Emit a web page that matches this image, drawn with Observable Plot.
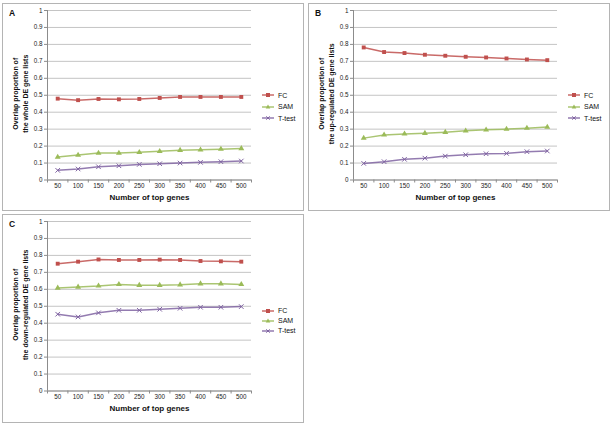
<!DOCTYPE html>
<html><head><meta charset="utf-8">
<script src="https://cdn.jsdelivr.net/npm/d3@7"></script>
<script src="https://cdn.jsdelivr.net/npm/@observablehq/plot@0.6"></script>
<style>
body{margin:0;background:#fff;font-family:"Liberation Sans",Arial,sans-serif;}
#root{position:relative;width:612px;height:425px;overflow:hidden;background:#fff;}
.box{position:absolute;border:1px solid #b4b4b4;box-sizing:border-box;}
.plot{position:absolute;overflow:visible;}
.letter{position:absolute;font-weight:bold;font-size:8.5px;color:#111;line-height:1;}
.leg{position:absolute;font-size:7px;color:#111;display:flex;align-items:center;line-height:1;white-space:nowrap;}
.leg svg{margin-right:3px;}
</style></head><body><div id="root"></div>
<script>
const genes = [50, 100, 150, 200, 250, 300, 350, 400, 450, 500];
const seriesNames = ["FC", "SAM", "T-test"];
const seriesColors = ["#c0504d", "#9bbb59", "#8064a2"];
const seriesSymbols = ["square", "triangle", "times"];
const panelLetters = ["A", "B", "C"];
const yTitleLine1 = "Overlap proportion of";
const yTitleLine2 = ["the whole DE gene lists", "the up-regulated DE gene lists", "the down-regulated DE gene lists"];
const xTitle = "Number of top genes";
const yTicks = [0, 0.1, 0.2, 0.3, 0.4, 0.5, 0.6, 0.7, 0.8, 0.9, 1];

// Panel A: whole DE gene lists
const wholeFC = [0.480, 0.471, 0.478, 0.476, 0.478, 0.484, 0.490, 0.490, 0.490, 0.490];
const wholeSAM = [0.135, 0.147, 0.159, 0.159, 0.163, 0.169, 0.176, 0.178, 0.182, 0.186];
const wholeTtest = [0.057, 0.065, 0.078, 0.084, 0.092, 0.096, 0.100, 0.104, 0.108, 0.112];
// Panel B: up-regulated
const upFC = [0.782, 0.755, 0.749, 0.739, 0.733, 0.727, 0.723, 0.717, 0.711, 0.707];
const upSAM = [0.247, 0.266, 0.272, 0.276, 0.282, 0.290, 0.296, 0.300, 0.306, 0.312];
const upTtest = [0.098, 0.108, 0.122, 0.129, 0.141, 0.149, 0.155, 0.157, 0.167, 0.171];
// Panel C: down-regulated
const downFC = [0.751, 0.763, 0.776, 0.773, 0.773, 0.775, 0.773, 0.767, 0.765, 0.763];
const downSAM = [0.608, 0.614, 0.620, 0.629, 0.624, 0.624, 0.627, 0.633, 0.633, 0.629];
const downTtest = [0.453, 0.437, 0.461, 0.476, 0.476, 0.482, 0.488, 0.494, 0.494, 0.498];

const panels = [
  {series: [wholeFC, wholeSAM, wholeTtest], left: 2, top: 3, w: 302, h: 208, legTop: 92, legGap: 11.5},
  {series: [upFC, upSAM, upTtest], left: 308, top: 3, w: 302, h: 208, legTop: 92, legGap: 11.5},
  {series: [downFC, downSAM, downTtest], left: 2, top: 214, w: 302, h: 209, legTop: 96.5, legGap: 10}
];

const root = document.getElementById("root");
const step = genes[1] - genes[0];
const xDomain = [genes[0] - step / 2, genes[genes.length - 1] + step / 2];
const boundaries = [xDomain[0], ...genes.map(g => g + step / 2)];
const axisColor = "#8c8c8c";
const font = "'Liberation Sans', Arial, sans-serif";

panels.forEach((p, pi) => {
  const box = document.createElement("div");
  box.className = "box";
  Object.assign(box.style, {left: p.left + "px", top: p.top + "px", width: p.w + "px", height: p.h + "px"});
  root.appendChild(box);

  const rows = [];
  p.series.forEach((vals, si) => vals.forEach((v, i) => rows.push({gene: genes[i], value: v, series: seriesNames[si]})));

  const marks = [
    Plot.gridY(yTicks, {stroke: "#c4c4c4", strokeOpacity: 1}),
    Plot.ruleY([0], {stroke: axisColor}),
    Plot.ruleX([xDomain[0]], {y1: 0, y2: 1, stroke: axisColor}),
    Plot.axisY(yTicks, {tickSize: 3, tickPadding: 2, stroke: axisColor, tickFormat: d => String(+d.toFixed(1)), label: null, fill: "#222"}),
    Plot.axisX(genes, {tickSize: 0, tickPadding: 3.5, tickFormat: d => String(d), label: null, fill: "#222"}),
    Plot.axisX(boundaries, {tickSize: 3, stroke: axisColor, tickFormat: () => "", label: null}),
    Plot.text([xTitle], {frameAnchor: "bottom", lineAnchor: "middle", textAnchor: "middle", dy: 17.5, fontWeight: "bold", fontSize: 8, fill: "#111"}),
    Plot.text([yTitleLine1], {frameAnchor: "left", textAnchor: "middle", lineAnchor: "middle", rotate: -90, dx: -32, dy: -1.5, fontWeight: "bold", fontSize: 7, fill: "#111"}),
    Plot.text([yTitleLine2[pi]], {frameAnchor: "left", textAnchor: "middle", lineAnchor: "middle", rotate: -90, dx: -22, dy: -1.5, fontWeight: "bold", fontSize: 7, fill: "#111"})
  ];
  seriesNames.forEach((name, si) => {
    const d = rows.filter(r => r.series === name);
    marks.push(Plot.line(d, {x: "gene", y: "value", stroke: seriesColors[si], strokeWidth: 1.5, strokeOpacity: 0.85}));
    if (seriesSymbols[si] === "times") {
      marks.push(Plot.dot(d, {x: "gene", y: "value", symbol: "times", r: 2.2, stroke: seriesColors[si], strokeWidth: 1}));
    } else {
      marks.push(Plot.dot(d, {x: "gene", y: "value", symbol: seriesSymbols[si], r: 2.2, fill: seriesColors[si], stroke: "none"}));
    }
  });

  const chart = Plot.plot({
    width: 301, height: 207,
    marginLeft: 45, marginRight: 52, marginTop: 7, marginBottom: 30.5,
    style: {fontFamily: font, fontSize: "6.3px", background: "transparent", color: "#222", overflow: "visible"},
    x: {type: "linear", domain: xDomain, label: null},
    y: {domain: [0, 1], label: null},
    marks
  });
  chart.classList.add("plot");
  chart.style.left = p.left + "px";
  chart.style.top = p.top + "px";
  root.appendChild(chart);

  const letter = document.createElement("div");
  letter.className = "letter";
  letter.textContent = panelLetters[pi];
  letter.style.left = (p.left + 7) + "px";
  letter.style.top = (p.top + 6) + "px";
  root.appendChild(letter);

  seriesNames.forEach((name, si) => {
    const leg = document.createElement("div");
    leg.className = "leg";
    leg.style.left = (p.left + 259) + "px";
    leg.style.top = (p.top + p.legTop + si * p.legGap - 4) + "px";
    leg.style.height = "8px";
    const c = seriesColors[si];
    let marker;
    if (seriesSymbols[si] === "square") marker = `<rect x="5" y="2" width="4" height="4" fill="${c}"/>`;
    else if (seriesSymbols[si] === "triangle") marker = `<path d="M7,1.6L9.3,5.6H4.7Z" fill="${c}"/>`;
    else marker = `<path d="M5.3,2.3L8.7,5.7M8.7,2.3L5.3,5.7" stroke="${c}" stroke-width="1"/>`;
    leg.innerHTML = `<svg width="14" height="8"><line x1="1" y1="4" x2="13" y2="4" stroke="${c}" stroke-width="1.5" stroke-opacity="0.85"/>${marker}</svg><span>${name}</span>`;
    root.appendChild(leg);
  });
});
</script></body></html>
